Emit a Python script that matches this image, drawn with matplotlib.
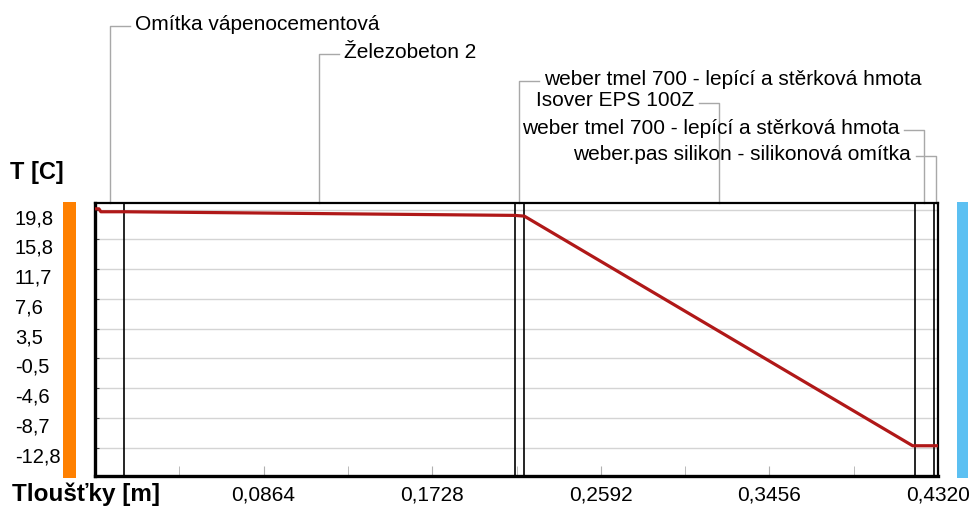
import matplotlib
matplotlib.use("Agg")
import matplotlib.pyplot as plt
from matplotlib.patches import Rectangle
from matplotlib.transforms import ScaledTranslation, blended_transform_factory

plt.rcParams['font.family'] = ['Liberation Sans', 'DejaVu Sans']

# layer names and thicknesses [m]
layers = ["Omítka vápenocementová", "Železobeton 2",
          "weber tmel 700 - lepící a stěrková hmota", "Isover EPS 100Z",
          "weber tmel 700 - lepící a stěrková hmota",
          "weber.pas silikon - silikonová omítka"]
thick = [0.015, 0.200, 0.005, 0.200, 0.010, 0.002]

# temperature profile
prof_x = [0.0, 0.002, 0.003, 0.015, 0.215, 0.220, 0.419, 0.430, 0.432]
prof_T = [20.0, 20.0, 19.6, 19.6, 19.1, 19.0, -12.5, -12.5, -12.5]

y_ticks = [19.8, 15.8, 11.7, 7.6, 3.5, -0.5, -4.6, -8.7, -12.8]
y_labels = ["19,8", "15,8", "11,7", "7,6", "3,5", "-0,5", "-4,6", "-8,7", "-12,8"]
x_major = [0.0864, 0.1728, 0.2592, 0.3456, 0.4320]
x_labels = ["0,0864", "0,1728", "0,2592", "0,3456", "0,4320"]
x_minor = [0.0432, 0.1296, 0.2160, 0.3024, 0.3888]

W, H = 976, 511
fig = plt.figure(figsize=(W / 100, H / 100), dpi=100)
L, R, T, B = 95, 938, 203, 476
ax = fig.add_axes([L / W, 1 - B / H, (R - L) / W, (B - T) / H])
ax.set_xlim(0, 0.432)
ax.set_ylim(-16.65, 20.8)

fs = 15
ax.set_yticks(y_ticks)
ax.set_yticklabels(y_labels, fontsize=14.5)
ax.set_xticks(x_major)
ax.set_xticklabels(x_labels, fontsize=fs)
ax.set_xticks(x_minor, minor=True)
ax.tick_params(axis='y', direction='in', length=3, color='#404040', pad=80 * 0.72)
ax.tick_params(axis='x', which='both', direction='in', length=7, color='#b0b0b0', pad=7)
for lab in ax.get_yticklabels():
    lab.set_horizontalalignment('left')
    lab.set_transform(lab.get_transform() + ScaledTranslation(0, -7 / 100, fig.dpi_scale_trans))
ax.grid(axis='y', color='#d4d4d4', lw=1)
ax.set_axisbelow(True)

for side, w in [('left', 2.4), ('bottom', 2.4), ('top', 1.6), ('right', 1.6)]:
    ax.spines[side].set_linewidth(w)
    ax.spines[side].set_color('black')

# layer boundaries
edges = [0.0]
for t in thick:
    edges.append(edges[-1] + t)
for e in edges[1:-1]:
    ax.axvline(e, color='black', lw=1.2, zorder=2)

ax.plot(prof_x, prof_T, color='#b01818', lw=2.3, zorder=3, solid_joinstyle='round')

# labels with leader lines above the plot
rows = [(24, 'r'), (52, 'r'), (79, 'r'), (101, 'l'), (128, 'l'), (154, 'l')]
px_m = 0.432 / (R - L)
blend = blended_transform_factory(ax.transData, fig.transFigure)
for i, name in enumerate(layers):
    xc = (edges[i] + edges[i + 1]) / 2
    yy, side = rows[i]
    yf = 1 - (yy + 2) / H
    sgn = 1 if side == 'r' else -1
    ax.plot([xc, xc, xc + sgn * 20 * px_m], [1 - T / H, yf, yf], transform=blend,
            color='#a8a8a8', lw=1, clip_on=False)
    ax.text(xc + sgn * 25 * px_m, 1 - yy / H, name, transform=blend, fontsize=fs,
            ha='left' if side == 'r' else 'right', va='center')

fig.text(10 / W, 1 - 173 / H, "T [C]", fontsize=17, fontweight='bold', va='center')
fig.text(12 / W, 1 - 494 / H, "Tloušťky [m]", fontsize=17.5, fontweight='bold', va='center')

# interior / exterior bars
fig.add_artist(Rectangle((63 / W, 1 - 478 / H), 13 / W, 276 / H, transform=fig.transFigure,
                         color='#ff8000', lw=0))
fig.add_artist(Rectangle((957 / W, 1 - 478 / H), 11 / W, 276 / H, transform=fig.transFigure,
                         color='#5cc0f2', lw=0))

fig.savefig("out.png", dpi=100)
